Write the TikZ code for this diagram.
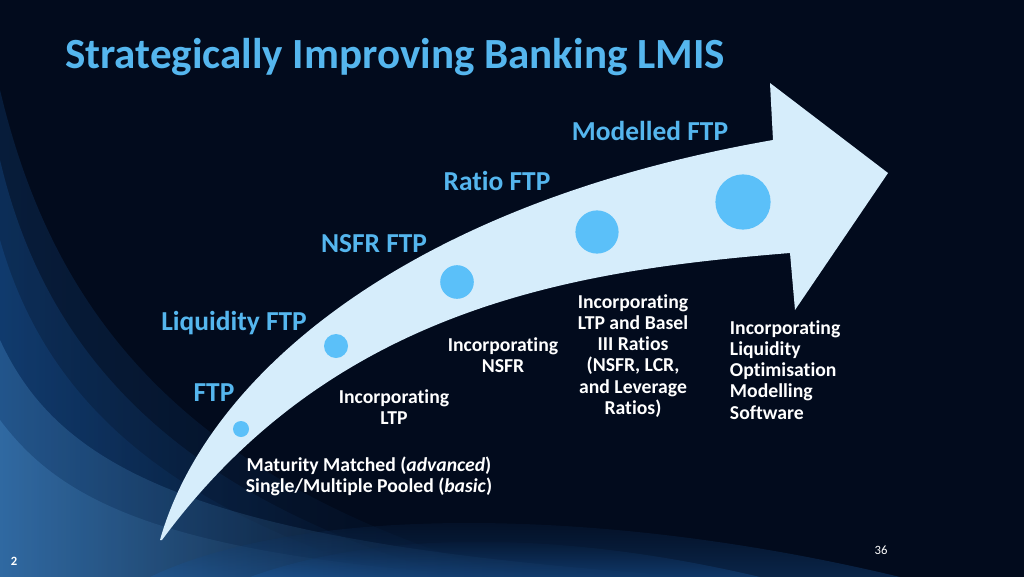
\documentclass[tikz,border=0pt]{standalone}
\usepackage{fontspec}
\setmainfont{Carlito}[Ligatures=NoCommon]
\usetikzlibrary{positioning}
\definecolor{navy}{HTML}{020B1D}
\definecolor{swirl}{HTML}{1E63B0}
\definecolor{swirllight}{HTML}{5AA6E6}
\definecolor{labelblue}{HTML}{55B6EE}
\definecolor{arrowfill}{HTML}{D6EDFB}
\definecolor{dotblue}{HTML}{5BC0F9}

\begin{document}
\begin{tikzpicture}[
  x=0.025cm, y=-0.025cm,
  stage/.style={font=\fontsize{19.5}{22}\selectfont\bfseries, text=labelblue},
  note/.style={font=\fontsize{14}{15}\selectfont\bfseries, text=white, align=center},
  dot/.style={circle, fill=dotblue, inner sep=0pt}
]
  % background
  \fill[navy] (0,0) rectangle (1024,577);
  \useasboundingbox (0,0) rectangle (1024,577);
  \shade[left color=swirl, right color=navy, opacity=0.2] (0,90) .. controls (50,300) and (170,480) .. (520,577) -- (0,577) -- cycle;
  \shade[left color=swirl, right color=navy, opacity=0.25] (0,160) .. controls (40,330) and (150,490) .. (460,577) -- (0,577) -- cycle;
  \shade[left color=swirl, right color=navy, opacity=0.25] (0,240) .. controls (40,380) and (140,500) .. (400,577) -- (0,577) -- cycle;
  \shade[left color=swirllight, right color=navy, opacity=0.25] (0,340) .. controls (60,470) and (200,545) .. (700,577) -- (0,577) -- cycle;
  \shade[left color=swirllight, right color=navy, opacity=0.25] (0,420) .. controls (60,500) and (160,555) .. (500,577) -- (0,577) -- cycle;
  \shade[top color=navy, bottom color=swirl, opacity=0.3] (150,577) .. controls (300,505) and (600,505) .. (900,577) -- cycle;
  \shade[top color=navy, bottom color=swirl, opacity=0.3] (250,577) .. controls (380,530) and (560,530) .. (760,577) -- cycle;

  \node[font=\fontsize{30.6}{34}\selectfont\bfseries, text=labelblue] (title) at (395,57) {Strategically Improving Banking LMIS};

  % curved arrow
  \fill[arrowfill] (160,540) .. controls (205,380) and (400,205) .. (773,140)
    -- (770,83) -- (888,173) -- (795,310) -- (790,253)
    .. controls (580,270) and (335,305) .. (162,540) -- cycle;

  \node[dot, minimum size=0.4cm] (dot1) at (241,429) {};
  \node[dot, minimum size=0.6cm] (dot2) at (336,346) {};
  \node[dot, minimum size=0.84cm] (dot3) at (457,282) {};
  \node[dot, minimum size=1.08cm] (dot4) at (597,232) {};
  \node[dot, minimum size=1.38cm] (dot5) at (743,202) {};

  \node[stage] (ftp) at (214,393) {FTP};
  \node[stage] (liquidity) at (234,323) {Liquidity FTP};
  \node[stage] (nsfr) at (374,244) {NSFR FTP};
  \node[stage] (ratio) at (497,181) {Ratio FTP};
  \node[stage] (modelled) at (650,131) {Modelled FTP};

  \node[note] (basic) at (369,476) {Maturity Matched (\textit{advanced})\\Single/Multiple Pooled (\textit{basic})};
  \node[note] (ltp) at (394,407) {Incorporating\\LTP};
  \node[note] (nsfrtxt) at (503,355) {Incorporating\\NSFR};
  \node[note] (basel) at (633,356) {Incorporating\\LTP and Basel\\III Ratios\\(NSFR, LCR,\\and Leverage\\Ratios)};
  \node[note, align=left, anchor=west] (software) at (725,370) {Incorporating\\Liquidity\\Optimisation\\Modelling\\Software};

  \node[font=\fontsize{9}{10}\selectfont\bfseries, text=white] (slide) at (14,561) {2};
  \node[font=\fontsize{9}{10}\selectfont, text=white] (page) at (881,550) {36};
\end{tikzpicture}
\end{document}
